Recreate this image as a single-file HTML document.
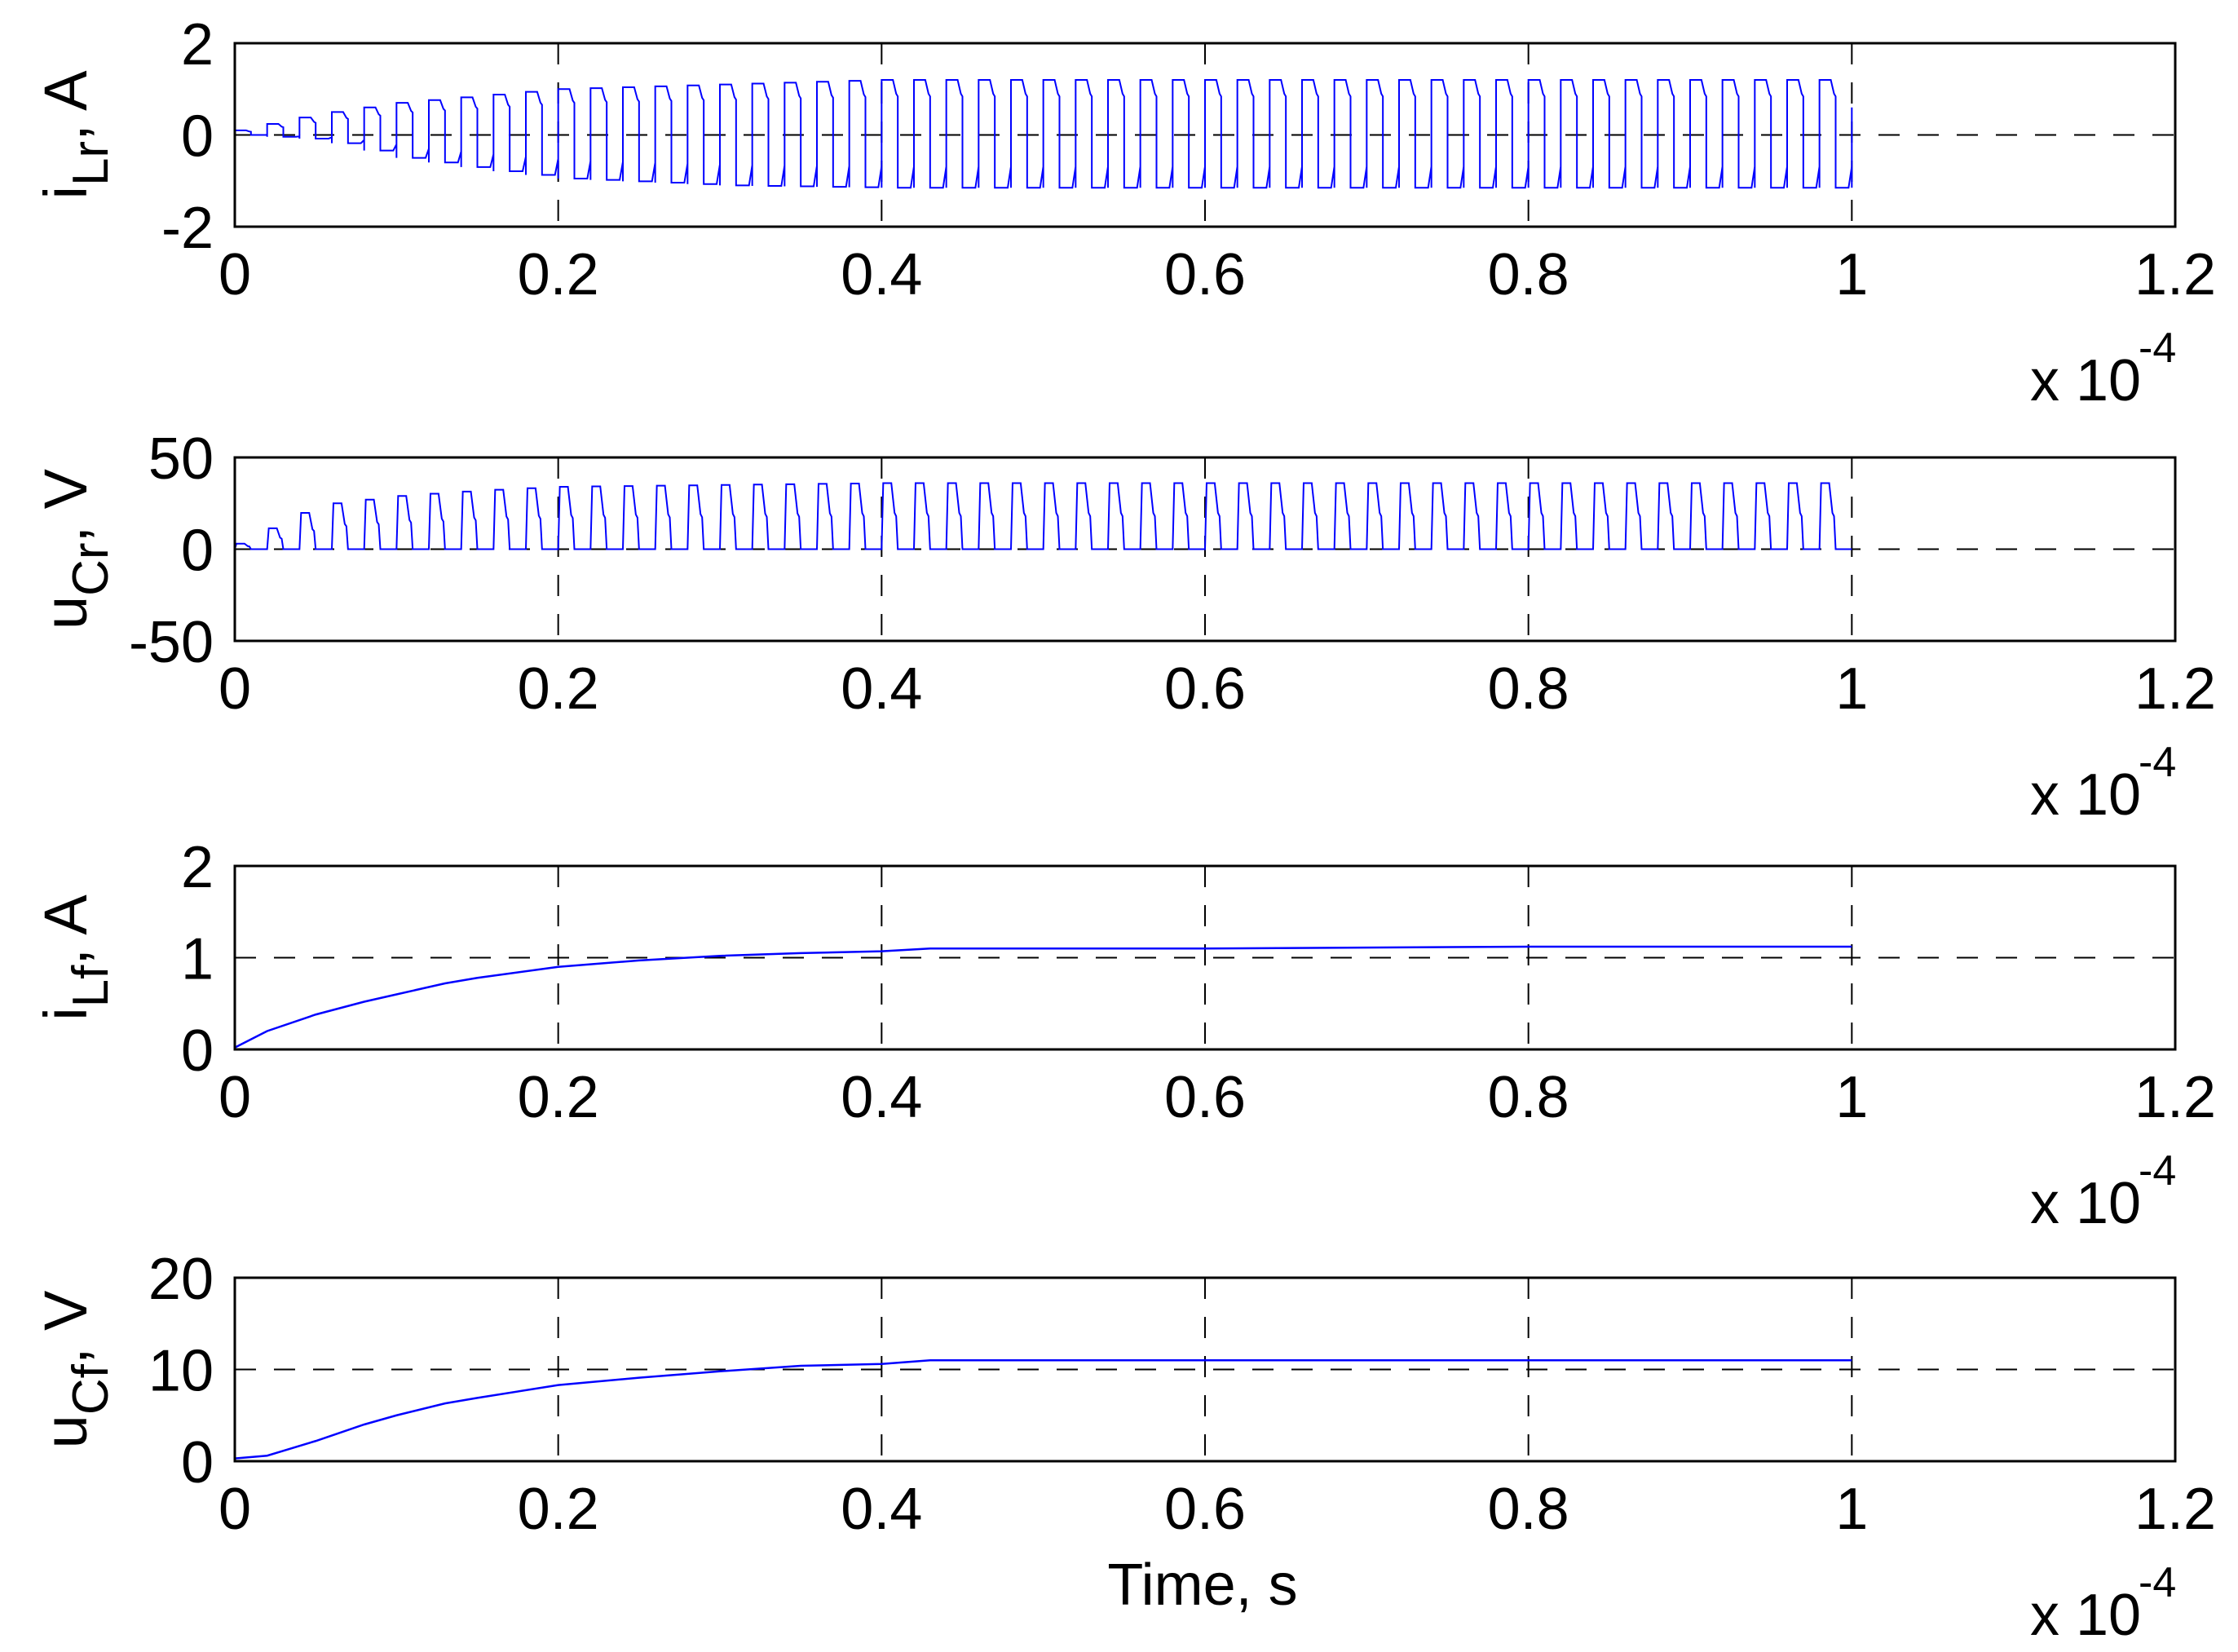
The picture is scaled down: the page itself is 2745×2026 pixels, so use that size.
<!DOCTYPE html>
<html><head><meta charset="utf-8">
<style>
html,body{margin:0;padding:0;background:#fff;}
svg{display:block;}
text{font-family:"Liberation Sans",sans-serif;fill:#000;}
</style></head>
<body>
<svg id="chart" width="2745" height="2026" viewBox="0 0 2745 2026" xmlns="http://www.w3.org/2000/svg"></svg>
<script>
// ---- data (time in units of 1e-4 s) ----
const xTicks = [0, 0.2, 0.4, 0.6, 0.8, 1, 1.2];
const xTickLabels = ["0","0.2","0.4","0.6","0.8","1","1.2"];
// envelope sample times for oscillating signals
const envT = [0, 0.05, 0.1, 0.15, 0.2, 0.3, 0.4, 0.6, 0.8, 1.0];
const iLrPos = [0.1, 0.45, 0.7, 0.85, 1.0, 1.1, 1.2, 1.2, 1.2, 1.2];
const iLrNeg = [0.0, -0.1, -0.5, -0.75, -0.95, -1.1, -1.15, -1.15, -1.15, -1.15];
const uCrPeak = [3, 24, 29, 32, 34, 35, 36, 36, 36, 36];
const cycleCount = 50;
// slow signals
const slowT = [0, 0.02, 0.05, 0.08, 0.1, 0.13, 0.15, 0.2, 0.25, 0.3, 0.35, 0.4, 0.43, 0.5, 0.6, 0.8, 1.0];
const iLf = [0.02, 0.2, 0.38, 0.52, 0.6, 0.72, 0.78, 0.9, 0.97, 1.02, 1.05, 1.07, 1.1, 1.1, 1.1, 1.12, 1.12];
const uCf = [0.3, 0.6, 2.2, 4.0, 5.0, 6.3, 6.9, 8.3, 9.1, 9.8, 10.4, 10.6, 11.0, 11.0, 11.0, 11.0, 11.0];

const yTicks1 = [-2, 0, 2], yTicks2 = [-50, 0, 50], yTicks3 = [0, 1, 2], yTicks4 = [0, 10, 20];

const NS = "http://www.w3.org/2000/svg";
const svg = document.getElementById("chart");
const L = 288, W = 2380, H = 225;
const tops = [53, 561, 1062, 1567];
function el(tag, attrs, parent) {
  const e = document.createElementNS(NS, tag);
  for (const k in attrs) e.setAttribute(k, attrs[k]);
  (parent || svg).appendChild(e);
  return e;
}
function interp(ts, vs, t) {
  if (t <= ts[0]) return vs[0];
  for (let i = 1; i < ts.length; i++) if (t <= ts[i]) {
    const f = (t - ts[i-1]) / (ts[i] - ts[i-1]);
    return vs[i-1] + f * (vs[i] - vs[i-1]);
  }
  return vs[vs.length - 1];
}
function makePanel(idx, yTicks, name) {
  const top = tops[idx], bot = top + H;
  const yMin = yTicks[0], yMax = yTicks[yTicks.length-1];
  const xs = v => L + v / 1.2 * W;
  const ys = v => bot - (v - yMin) / (yMax - yMin) * H;
  const g = el("g", {});
  
  
  xTicks.slice(1, -1).forEach(v => {
    const ln = el("line", {x1: xs(v), x2: xs(v), y1: top, y2: bot, stroke: "#000", "stroke-width": 2, "stroke-dasharray": "26 22"}, g);
    
    
  });
  yTicks.slice(1, -1).forEach(v => {
    const ln = el("line", {x1: L, x2: L + W, y1: ys(v), y2: ys(v), stroke: "#000", "stroke-width": 2, "stroke-dasharray": "26 22"}, g);
    
    
  });
  return {g, xs, ys, top, bot};
}
function decorate(p, yTicks, labelMain, labelSub, labelUnit, name) {
  const {g, xs, ys, top, bot} = p;
  const box = el("rect", {x: L, y: top, width: W, height: H, fill: "none", stroke: "#000", "stroke-width": 3}, g);
  
  
  yTicks.forEach(v => {
    const t = el("text", {x: 262, y: ys(v) + 26, "font-size": 72, "text-anchor": "end"}, g);
    t.textContent = String(v);
    
    
  });
  xTicks.forEach((v, i) => {
    const t = el("text", {x: xs(v), y: bot + 83, "font-size": 72, "text-anchor": "middle"}, g);
    t.textContent = xTickLabels[i];
    
    
  });
  const ex = el("text", {x: 2490, y: bot + 213, "font-size": 72}, g);
  ex.textContent = "x 10";
  
  
  const ex2 = el("text", {x: 2623, y: bot + 166, "font-size": 52}, g);
  ex2.textContent = "-4";
  
  
  const cy = (top + bot) / 2;
  const yl = el("text", {x: 0, y: 0, "font-size": 74, "text-anchor": "middle", transform: `translate(106,${cy}) rotate(-90)`}, g);
  
  
  const a = el("tspan", {}, yl); a.textContent = labelMain;
  const b = el("tspan", {dy: 26, "font-size": 62}, yl); b.textContent = labelSub;
  const c = el("tspan", {dy: -26}, yl); c.textContent = ", " + labelUnit;
}

// Panel 1: i_Lr
let p = makePanel(0, yTicks1, "ilr");
let T = 1 / cycleCount, pts = [];
for (let k = 0; k < cycleCount; k++) {
  const t0 = k * T;
  const hi = interp(envT, iLrPos, t0), lo = interp(envT, iLrNeg, t0);
  pts.push([t0, lo], [t0, hi], [t0 + 0.35*T, hi], [t0 + 0.45*T, hi*0.75], [t0 + 0.5*T, hi*0.7], [t0 + 0.5*T, lo], [t0 + 0.9*T, lo], [t0 + T, lo*0.6]);
}
pts.push([1, interp(envT, iLrNeg, 1)], [1, 0.6]);
let line = el("polyline", {points: pts.map(q => p.xs(q[0]) + "," + p.ys(q[1])).join(" "), fill: "none", stroke: "#0000ff", "stroke-width": 2}, p.g);


decorate(p, yTicks1, "i", "Lr", "A", "ilr");

// Panel 2: u_Cr
p = makePanel(1, yTicks2, "ucr");
pts = [];
for (let k = 0; k < cycleCount; k++) {
  const t0 = k * T, pk = interp(envT, uCrPeak, t0);
  pts.push([t0, 0], [t0 + 0.05*T, pk], [t0 + 0.3*T, pk], [t0 + 0.4*T, pk*0.55], [t0 + 0.45*T, pk*0.5], [t0 + 0.5*T, 0], [t0 + T, 0]);
}
line = el("polyline", {points: pts.map(q => p.xs(q[0]) + "," + p.ys(q[1])).join(" "), fill: "none", stroke: "#0000ff", "stroke-width": 2}, p.g);


decorate(p, yTicks2, "u", "Cr", "V", "ucr");

// Panel 3: i_Lf
p = makePanel(2, yTicks3, "ilf");
line = el("polyline", {points: slowT.map((t, i) => p.xs(t) + "," + p.ys(iLf[i])).join(" "), fill: "none", stroke: "#0000ff", "stroke-width": 2.5}, p.g);


decorate(p, yTicks3, "i", "Lf", "A", "ilf");

// Panel 4: u_Cf
p = makePanel(3, yTicks4, "ucf");
line = el("polyline", {points: slowT.map((t, i) => p.xs(t) + "," + p.ys(uCf[i])).join(" "), fill: "none", stroke: "#0000ff", "stroke-width": 2.5}, p.g);


decorate(p, yTicks4, "u", "Cf", "V", "ucf");

const xt = el("text", {x: 1475, y: 1968, "font-size": 72, "text-anchor": "middle"});
xt.textContent = "Time, s";


</script>
</body></html>
